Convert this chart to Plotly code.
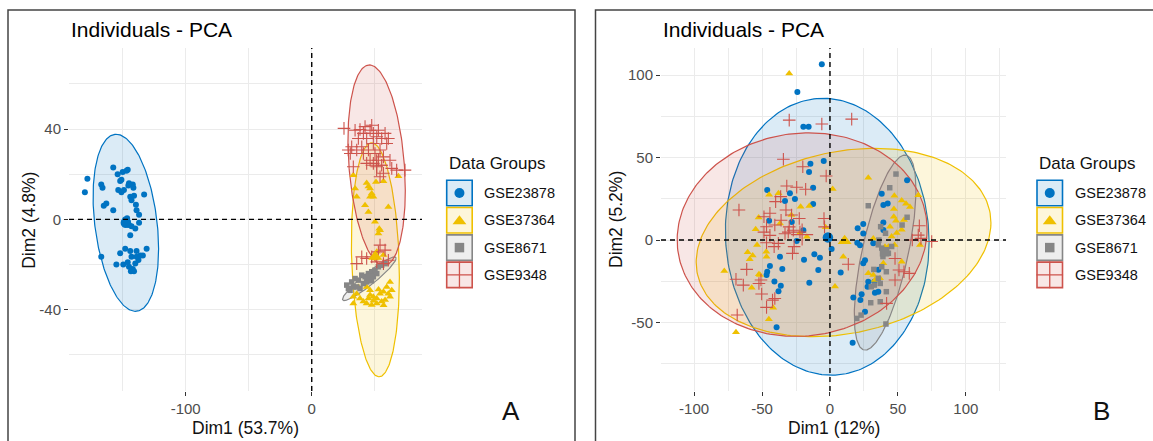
import numpy as np
import plotly.graph_objects as go

W, H = 1153, 441
FONT = "Liberation Sans, Arial, sans-serif"

groups = ["GSE23878", "GSE37364", "GSE8671", "GSE9348"]
colors = ["#0073C2", "#EFC000", "#868686", "#CD534C"]
rgb = [(0, 115, 194), (239, 192, 0), (134, 134, 134), (205, 83, 76)]
symbols = ["circle", "triangle-up", "square", "cross-thin-open"]

# ---------------- Panel A data ----------------
a_title = "Individuals - PCA"
a_xlabel = "Dim1 (53.7%)"
a_ylabel = "Dim2 (4.8%)"
a_xticks = [-100, 0]
a_yticks = [-40, 0, 40]

a_gse23878_x = [-180, -178, -167, -166, -165, -163, -157.5, -157.5, -154, -152,
                -150, -147, -146, -153.5, -151, -149, -145, -142, -141.5, -144,
                -141, -143, -139.5, -139, -137, -133, -148, -146, -145, -143,
                -140, -137, -144, -167, -155, -152, -148, -149.5, -146, -145,
                -143.5, -141, -140, -139, -136, -134, -131, -143, -137.5, -146.5,
                -151, -145.5, -142, -139, -144]
a_gse23878_y = [12, 18, 15.5, 14, 6, 7, 4, 23, 20, 17,
                21, 21.5, 22, 13, 12, 13, 16, 15.5, 14, 10,
                10.5, 8.5, 6.5, 4, 2, 11, 0, -1, -2.5, -3,
                -4, -1.5, -7, -16.5, -20, -15, -13, -20, -19, -21,
                -23, -23, -19.5, -14, -16, -16, -13, -16.5, -18, 0.5,
                17.5, 15, -22, -16.5, -14]

a_gse37364_x = [33, 34.4, 35.7, 43.6, 45, 46.3, 47.6, 48.9, 46.3, 42.3,
                45, 56.9, 60.8, 68.8, 50.2, 54.2, 52.9, 50.2,
                33, 35.7, 46.3, 48.9, 51.6, 54.2, 56.9, 59.5, 60.8, 62.1,
                63.5, 41, 43.6, 47.6, 51.6, 55.5, 38.3, 58.2, 37, 62.1,
                51.6, 56.9, 46.3, 33, 43.6, 53.6, 49, 53, 57, 45, 51]
a_gse37364_y = [19.6, 13.7, 10, 16.1, 14.6, 13.7, 11.5, 10, 10, 6.3,
                3.3, 16.9, 5.5, 19.1, -1.1, -4.8, -6.3, -17.3,
                -37.2, -32.9, -33.5, -34.3, -35, -32.9, -32.1, -29.9, -32.9, -34.3,
                -31.4, -36.4, -37.2, -37.9, -37.2, -36.4, -35, -35.7, -29.9, -27.7,
                -14.3, -15.8, -31.4, -34.3, -29.9, -4.2, -36, -31, -38, -35, 16.6]

a_gse8671_x = [27.8, 31.7, 34.4, 37, 39.7, 42.3, 45, 47.6, 50.2, 52.9,
               55.5, 58.2, 30.4, 35.7, 41, 43.6, 46.3, 38.3, 33, 48.9,
               51.6, 29.1]
a_gse8671_y = [-29.1, -27.7, -26.2, -26.9, -24.7, -25.4, -24, -23.2, -22.5, -21,
               -20.3, -19.6, -31.4, -29.9, -28.4, -27.7, -26.2, -30.6, -29.9, -25.4,
               -24, -30.6]

a_gse9348_x = [25.6, 29, 30.6, 33, 34.4, 37, 38.3, 39.7, 41, 42.3,
               43.6, 45, 46.3, 47.6, 48.9, 48.9, 50.2, 51.6, 52.9, 54.2,
               55.5, 56.9, 58.2, 59.5, 60.8, 62.1, 51.6, 54.2, 56.9, 63.5,
               67.4, 74, 46.3, 43.6, 48.9, 52.9, 55.5, 41, 35.7, 31.7,
               54.2, 58.2, 43.6, 47.6, 51.6, 56.9, 60.8, 39.7, 35.7, 52.9]
a_gse9348_y = [40.3, 30.7, 29.2, 23.3, 39.5, 35.8, 39.8, 32.2, 38.1, 41.1,
               35.8, 30.7, 39.5, 41.7, 38.1, 33.6, 29.2, 36.6, 39.5, 30.7,
               35.8, 27.7, 38.1, 33.6, 35.8, 26.2, 23.3, 18.9, 20.4, 22.6,
               21.8, 21.8, 26.2, 24.8, 24.8, 26.2, 24, 29.2, 30.7, 32.2,
               -11.4, -13.6, -17.3, -16.6, -18.8, -19.6, -18.1, -16.6, -19.6, -14.4]

# group means (larger marker)
a_mean_x = [-147.5, 50.4, 45.7, 51.5]
a_mean_y = [-1.5, -16.5, -26.3, 24.0]

# concentration ellipses: centre, x half-extent, y half-extent, correlation
a_ell_cx = [-147.5, 50.5, 45.7, 51.5]
a_ell_cy = [-1.5, -17.9, -26.3, 24.0]
a_ell_sx = [26.0, 19.05, 21.3, 22.75]
a_ell_sy = [39.2, 51.8, 9.66, 44.4]
a_ell_r = [-0.294, -0.152, 0.938, -0.251]

a_xrange = [-192.6, 87.5]
a_yrange = [-76.0, 75.9]

# ---------------- Panel B data ----------------
b_title = "Individuals - PCA"
b_xlabel = "Dim1 (12%)"
b_ylabel = "Dim2 (5.2%)"
b_xticks = [-100, -50, 0, 50, 100]
b_yticks = [-50, 0, 50, 100]

b_gse23878_x = [-6, -24, -19.6, -15.7, -4.6, -14.4, -15.4, -46.2, -29.5, -25.8,
                -12.4, -33.1, -12.4, -44.8, -28.1, 56.8, 38.1, 39.3, 42.5, 20.4,
                24.5, 39.3, 1.2, -36.8, -19.1, -11.5, -7.4, -8.6, -44.2, -46.2,
                -46.7, -35.1, -40.9, -36.2, -37.9, -15.2, -39.3, -24.5, -19.6, 7.9,
                17.2, 23.3, 27.7, 25.8, 33.1, 16.7, 20.1, 22.1, 24.5, 31.9,
                39.3, 25.8, 24.5, 35.6, 28.2, 32.7, 35.6, 22.4]
b_gse23878_y = [106.5, 89.7, 68.7, 68.7, 47.9, 46.3, 41.2, 30.3, 28.3, 24.8,
                31.7, 23.6, 21.9, 11.7, 10.9, 36.2, 28.1, 21.2, 22.2, 7.1,
                9.7, 10.7, -5.5, -10.1, -11.9, -8.6, -10.7, -18.2, -15.8, -19.2,
                -21.2, -17.6, -25.2, -27.7, -31, -25.9, -52.9, -0.6, 6, -19.6,
                -34.8, -32.8, -28.3, -43.4, -31.9, -62.2, -1.6, -3.1, 4.0, -2,
                6.1, -12.2, -14.1, -18, -25.3, -25.3, -31.3, -36.4]

b_gse37364_x = [-30, -44.8, -15.2, -52.5, 2, -36.8, 28.2, 47.4, 52.8, 56,
                58.9, 47.1, 47, 48.6, 54.5, 65, 44.2, -77.8, -60.6, -56.9,
                -59.1, -53.7, -46.9, -46.7, -52.3, -57.6, -41.8, -45, -69.2, -3.2,
                -17, 9.8, 3.7, 31.9, 28.2, 31.9, 33.1, 36.8, 39.3, 52.8,
                45.4, 49.1, 52.8, 66.3, 40.5, 43, 47.6, -54.7, -28.4, -21.6,
                -22.2, -37.9, -51.5]
b_gse37364_y = [101, 27.5, 20.6, 13.6, 31, 10.1, 37.8, 26.9, 24, 22,
                20, 18.8, 14.1, 11.7, 12.1, 27.2, 8.1, -18.8, -7.4, -9.4,
                -11.7, -3, -7.1, -10.1, -20.8, -28.9, -41, -48, -55.9, 7.7,
                2, -10.1, -28.2, 1, -20.2, -21.2, -24.2, -23.2, -14.1, -13.1,
                2.1, 4.2, 6.2, -3, -4, -4, -3, 6.5, 15.2, 20.2,
                4.1, 28.3, -21.2]

b_gse8671_x = [48.6, 44, 28.2, 56.8, 53.1, 37.3, 40.9, 36, 35.6, 38.1,
               32.3, 41.5, 38.1, 35.6, 37, 30.4, 32.7, 41.5, 37, 30,
               22.9, 19.7, 41.2, 45.4, 43, 39]
b_gse8671_y = [40, 31.7, 20.8, 13.8, 9.1, 8.1, 4.1, 0, -2.9, -4.9,
               -17.8, -19.2, -16.2, -23.2, -26.3, -28.3, -27.3, -31.3, -37.4, -38,
               -45.5, -47.5, -50.9, -3.9, -8, -10]

b_gse9348_x = [-30, -6, 16, -34.3, -20, -2.8, -31.8, -24.5, -17.9, -36.3,
               -40, -67, -44.2, -48.6, -32.4, -28.3, -22.6, -4.4, 65.8, -61.3,
               -69.2, -63.8, -52.3, -50.8, -50.3, -46.7, -42.3, -40.6, -68.3, -27.6,
               -26.4, -41.1, -46.7, -44.2, -48.6, -33.1, -30.7, -27, -22.1, -46.7,
               -40.6, -4, 13.5, 47.9, 50.8, 54.5, 58.4, 47.9, 41.7, 60.6,
               74.9, 65, 67, -36, -38, -30]
b_gse9348_y = [72.7, 70.3, 73.3, 49, 44.4, 38.8, 32.8, 32, 30.8, 26.3,
               23.3, 18.2, 16.2, 14.1, 18.2, 15.2, 13.1, 13.1, 8.7, -17.8,
               -23.8, -27.3, -26.3, -24.2, -32.7, -40.8, -36.4, -35.4, -45.4, -8.1,
               -4, -4, -1.6, 2.8, 4.8, 3.8, 4.8, 5.9, 4.8, 8.1,
               9.1, 8, -14.7, -11.2, -18.2, -19.2, -20.2, -24.2, -38.4, 0,
               -0.9, 3, 1, 12, -2, 8]

b_mean_x = [-1.5, 10.8, 40.2, -20.5]
b_mean_y = [1.6, -0.5, -7.1, 3.3]

b_ell_cx = [-2.0, 10.0, 40.6, -20.5]
b_ell_cy = [2.0, -1.5, -7.6, 3.3]
b_ell_sx = [75.0, 108.5, 22.7, 92.0]
b_ell_sy = [83.9, 57.1, 59.1, 61.7]
b_ell_r = [-0.04, 0.21, 0.645, 0.053]

b_xrange = [-124.4, 129.6]
b_yrange = [-91.5, 116.4]

# ---------------- figure ----------------
fig = go.Figure()


def rgba(i, a):
    r, g, b = rgb[i]
    return f"rgba({r},{g},{b},{a})"


def add_ellipses(xa, ya, cx, cy, sx, sy, rr):
    t = np.linspace(0, 2 * np.pi, 241)
    for i in range(4):
        ex = cx[i] + sx[i] * np.cos(t)
        ey = cy[i] + sy[i] * (rr[i] * np.cos(t) + np.sqrt(1 - rr[i] ** 2) * np.sin(t))
        fig.add_trace(go.Scatter(x=ex, y=ey, mode="lines", fill="toself",
                                 fillcolor=rgba(i, 0.14),
                                 line=dict(color=colors[i], width=1.2),
                                 xaxis=xa, yaxis=ya, hoverinfo="skip",
                                 showlegend=False))


def marker_style(i, big=False):
    k = 1.75 if big else 1.0
    if symbols[i] == "cross-thin-open":
        return dict(symbol=symbols[i], size=9 * k, color=colors[i],
                    line=dict(color=colors[i], width=1.1))
    base = {"circle": 6, "triangle-up": 7, "square": 5.5}[symbols[i]]
    return dict(symbol=symbols[i], size=base * k, color=colors[i],
                line=dict(width=0))


def add_points(xa, ya, xs, ys, mx, my):
    for i in range(4):
        fig.add_trace(go.Scatter(x=xs[i], y=ys[i], mode="markers",
                                 marker=marker_style(i), xaxis=xa, yaxis=ya,
                                 name=groups[i], showlegend=False))
    for i in range(4):
        fig.add_trace(go.Scatter(x=[mx[i]], y=[my[i]], mode="markers",
                                 marker=marker_style(i, big=True), xaxis=xa, yaxis=ya,
                                 showlegend=False, hoverinfo="skip"))


add_ellipses("x", "y", a_ell_cx, a_ell_cy, a_ell_sx, a_ell_sy, a_ell_r)
add_points("x", "y",
           [a_gse23878_x, a_gse37364_x, a_gse8671_x, a_gse9348_x],
           [a_gse23878_y, a_gse37364_y, a_gse8671_y, a_gse9348_y],
           a_mean_x, a_mean_y)
add_ellipses("x2", "y2", b_ell_cx, b_ell_cy, b_ell_sx, b_ell_sy, b_ell_r)
add_points("x2", "y2",
           [b_gse23878_x, b_gse37364_x, b_gse8671_x, b_gse9348_x],
           [b_gse23878_y, b_gse37364_y, b_gse8671_y, b_gse9348_y],
           b_mean_x, b_mean_y)

# ---------------- legends (drawn on a pixel overlay axis) ----------------
legend_rows = [193.0, 220.3, 247.6, 274.9]
BOX = 25.5
shapes = []
annotations = []


def add_legend(left):
    annotations.append(dict(x=left / W, y=1 - 163 / H, xref="paper", yref="paper",
                            text="Data Groups", showarrow=False, xanchor="left",
                            yanchor="middle", font=dict(size=17, color="#111111", family=FONT)))
    for i in range(4):
        cy = legend_rows[i]
        shapes.append(dict(type="rect", xref="x3", yref="y3",
                           x0=left, x1=left + BOX, y0=cy - BOX / 2, y1=cy + BOX / 2,
                           line=dict(color=colors[i], width=1.6),
                           fillcolor=rgba(i, 0.14), layer="below"))
        st = marker_style(i)
        if symbols[i] == "cross-thin-open":
            st["size"] = 19
            st["line"]["width"] = 1.3
        else:
            st["size"] = {"circle": 10, "triangle-up": 12, "square": 9.5}[symbols[i]]
        fig.add_trace(go.Scatter(x=[left + BOX / 2], y=[cy + (1 if i == 1 else 0)],
                                 mode="markers", marker=st,
                                 xaxis="x3", yaxis="y3", showlegend=False,
                                 hoverinfo="skip"))
        annotations.append(dict(x=(left + 35.6) / W, y=1 - cy / H, xref="paper", yref="paper",
                                text=groups[i], showarrow=False, xanchor="left",
                                yanchor="middle",
                                font=dict(size=14.5, color="#111111", family=FONT)))


add_legend(446.7)
add_legend(1037.0)

# ---------------- zero lines & borders ----------------
for xa, ya in [("x", "y"), ("x2", "y2")]:
    shapes.append(dict(type="line", xref=xa, yref=ya + " domain", x0=0, x1=0, y0=0, y1=1,
                       line=dict(color="black", width=1.4, dash="5px,4px"), layer="above"))
    shapes.append(dict(type="line", xref=xa + " domain", yref=ya, x0=0, x1=1, y0=0, y1=0,
                       line=dict(color="black", width=1.4, dash="5px,4px"), layer="above"))

shapes.append(dict(type="rect", xref="paper", yref="paper",
                   x0=8 / W, x1=575 / W, y0=-0.05, y1=1 - 10 / H,
                   line=dict(color="#444444", width=1.5), fillcolor="rgba(0,0,0,0)"))
shapes.append(dict(type="rect", xref="paper", yref="paper",
                   x0=595.5 / W, x1=1.05, y0=-0.05, y1=1 - 10 / H,
                   line=dict(color="#444444", width=1.5), fillcolor="rgba(0,0,0,0)"))


def txt(x, y, s, size, anchor="center", angle=0, color="#111111"):
    annotations.append(dict(x=x / W, y=1 - y / H, xref="paper", yref="paper", text=s,
                            showarrow=False, xanchor=anchor, yanchor="middle",
                            textangle=angle, font=dict(size=size, color=color, family=FONT)))


txt(69.0, 29.5, a_title, 21, anchor="left", color="#000000")
txt(661.0, 29.5, b_title, 21, anchor="left", color="#000000")
txt(245.5, 427.5, a_xlabel, 17.5)
txt(833.5, 427.5, b_xlabel, 17.5)
txt(28.8, 220.0, a_ylabel, 17.5, angle=-90)
txt(616.0, 220.0, b_ylabel, 17.5, angle=-90)
txt(510.5, 411.0, "A", 26)
txt(1101.5, 411.0, "B", 26)

# ---------------- axes ----------------
grid = "#EBEBEB"


def axis(domain, rng, ticks, minor, anchor):
    return dict(domain=domain, range=rng, tickmode="array", tickvals=ticks,
                ticktext=[str(v) for v in ticks], anchor=anchor,
                showgrid=True, gridcolor=grid, gridwidth=1.2, zeroline=False,
                showline=False, ticks="outside", ticklen=4, tickwidth=1,
                tickcolor="#333333",
                tickfont=dict(size=15, color="#4D4D4D", family=FONT),
                minor=dict(dtick=minor, tick0=0, showgrid=True, gridcolor=grid,
                           gridwidth=0.8),
                fixedrange=True)


fig.update_layout(
    width=W, height=H, margin=dict(l=0, r=0, t=0, b=0),
    paper_bgcolor="white", plot_bgcolor="rgba(0,0,0,0)",
    showlegend=False, font=dict(family=FONT),
    xaxis=axis([69 / W, 422 / W], a_xrange, a_xticks, 50, "y"),
    yaxis=axis([1 - 391 / H, 1 - 48 / H], a_yrange, a_yticks, 20, "x"),
    xaxis2=axis([661 / W, 1006 / W], b_xrange, b_xticks, 25, "y2"),
    yaxis2=axis([1 - 391 / H, 1 - 48 / H], b_yrange, b_yticks, 25, "x2"),
    xaxis3=dict(domain=[0, 1], range=[0, W], visible=False, anchor="y3", fixedrange=True),
    yaxis3=dict(domain=[0, 1], range=[H, 0], visible=False, anchor="x3", fixedrange=True),
    shapes=shapes, annotations=annotations,
)

fig.write_html("out.html", config={"displayModeBar": False},
               post_script="document.body.style.margin='0px';"
                           "document.body.style.overflow='hidden';")
